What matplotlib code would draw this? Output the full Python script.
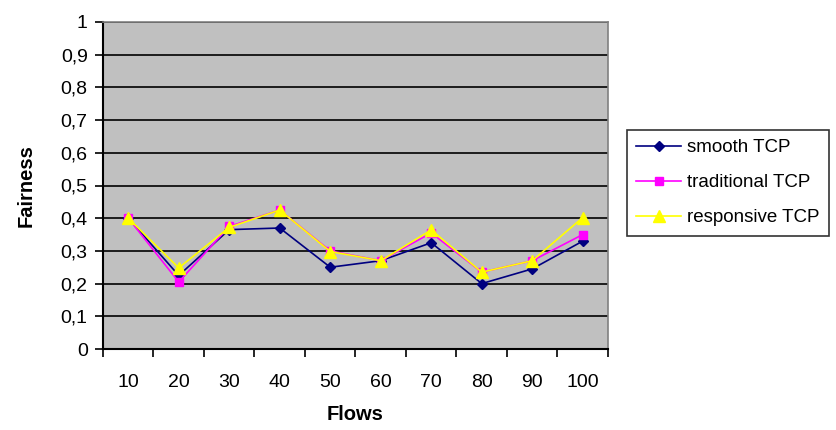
import numpy as np
import matplotlib.pyplot as plt
from matplotlib.ticker import FixedLocator, NullFormatter

plt.rcParams['font.family'] = ['Liberation Sans', 'DejaVu Sans']

# data
flows = ['10', '20', '30', '40', '50', '60', '70', '80', '90', '100']
smooth_tcp = [0.40, 0.225, 0.365, 0.37, 0.25, 0.27, 0.325, 0.20, 0.245, 0.33]
traditional_tcp = [0.40, 0.205, 0.375, 0.425, 0.30, 0.27, 0.355, 0.235, 0.27, 0.35]
responsive_tcp = [0.40, 0.248, 0.372, 0.425, 0.298, 0.27, 0.364, 0.235, 0.27, 0.402]
y_ticks = np.arange(0, 1.01, 0.1)

fig = plt.figure(figsize=(8.37, 4.30), dpi=100)
ax = fig.add_axes([103 / 837, 81 / 430, 505 / 837, 327 / 430])
ax.set_facecolor('#C0C0C0')

x = np.arange(len(flows))
ax.plot(x, smooth_tcp, color='#000080', marker='D', markersize=5, lw=1.2, label='smooth TCP')
ax.plot(x, traditional_tcp, color='#FF00FF', marker='s', markersize=6, lw=1.2, label='traditional TCP')
ax.plot(x, responsive_tcp, color='#FFFF00', marker='^', markersize=8, lw=1.2, label='responsive TCP')

ax.set_xlim(-0.5, len(flows) - 0.5)
ax.set_ylim(0, 1)
ax.set_yticks(y_ticks)
ax.set_yticklabels([('%.1f' % v).replace('.', ',') if 0 < v < 1 else '%d' % round(v) for v in y_ticks])
ax.yaxis.grid(True, color='black', lw=1.2)
ax.set_axisbelow(True)

# tick marks between categories, labels centred on them
ax.xaxis.set_major_locator(FixedLocator(np.arange(-0.5, len(flows), 1)))
ax.xaxis.set_major_formatter(NullFormatter())
ax.xaxis.set_minor_locator(FixedLocator(x))
ax.set_xticklabels(flows, minor=True)
ax.tick_params(axis='x', which='minor', length=0, pad=18, labelsize=14)
ax.tick_params(axis='x', which='major', length=6, width=1.2)
ax.tick_params(axis='y', length=6, width=1.2, labelsize=14, pad=5)

for s in ['left', 'bottom']:
    ax.spines[s].set_color('black')
    ax.spines[s].set_linewidth(1.5)
for s in ['top', 'right']:
    ax.spines[s].set_color('#808080')
    ax.spines[s].set_linewidth(1.2)

ax.set_ylabel('Fairness', fontsize=14.5, fontweight='bold', labelpad=18)
ax.set_xlabel('Flows', fontsize=14.5, fontweight='bold', labelpad=10)

leg = fig.legend(loc='upper left', bbox_to_anchor=(627 / 837, 1 - 130 / 430),
                 fontsize=13.5, frameon=True, fancybox=False, handlelength=2.4,
                 borderpad=0.5, labelspacing=0.95, handletextpad=0.3, borderaxespad=0)
leg.get_frame().set_edgecolor('black')
leg.get_frame().set_linewidth(1.2)

fig.savefig('out.png', dpi=100)
